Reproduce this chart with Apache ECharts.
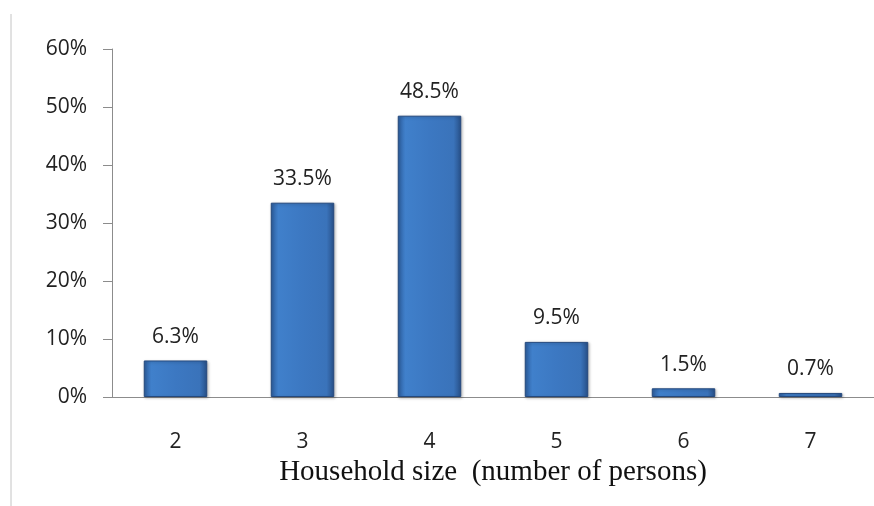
<!DOCTYPE html>
<html>
<head>
<meta charset="utf-8">
<script src="https://cdn.jsdelivr.net/npm/echarts@6/dist/echarts.min.js"></script>
<style>
  html, body { margin: 0; padding: 0; background: #fff; }
  #chart { width: 874px; height: 506px; }
</style>
</head>
<body>
<div id="chart"></div>
<script>
  'use strict';

  // household size categories and share of households (%)
  var sizes = ['2', '3', '4', '5', '6', '7'];
  var shares = [6.3, 33.5, 48.5, 9.5, 1.5, 0.7];
  var yTicks = { min: 0, max: 60, step: 10 };

  var myChart = echarts.init(document.getElementById('chart'));

  var barColor = new echarts.graphic.LinearGradient(0, 0, 1, 0, [
    { offset: 0, color: '#2d5e9f' },
    { offset: 0.12, color: '#4080cb' },
    { offset: 0.5, color: '#3c78c2' },
    { offset: 0.88, color: '#3a73ba' },
    { offset: 1, color: '#274f87' }
  ]);

  var option = {
    animation: false,
    grid: {
      left: 112,
      top: 49,
      width: 771,
      height: 348
    },
    graphic: [{
      type: 'line',
      shape: { x1: 11, y1: 14, x2: 11, y2: 506 },
      style: { stroke: '#c4c4c4', lineWidth: 1 }
    }],
    xAxis: {
      type: 'category',
      data: sizes,
      name: 'Household size  (number of persons)',
      nameLocation: 'middle',
      nameGap: 47,
      nameTextStyle: {
        fontFamily: 'Liberation Serif',
        fontSize: 29,
        color: '#111'
      },
      axisLine: { lineStyle: { color: '#8c8c8c', width: 1 } },
      axisTick: { length: 8, lineStyle: { color: '#8c8c8c' } },
      axisLabel: {
        margin: 35,
        fontFamily: 'Open Sans',
        fontSize: 21,
        color: '#222'
      }
    },
    yAxis: {
      type: 'value',
      min: yTicks.min,
      max: yTicks.max,
      interval: yTicks.step,
      splitLine: { show: false },
      axisLine: { show: true, lineStyle: { color: '#8c8c8c', width: 1 } },
      axisTick: { show: true, length: 9, lineStyle: { color: '#8c8c8c' } },
      axisLabel: {
        formatter: '{value}%',
        margin: 25,
        fontFamily: 'Open Sans',
        fontSize: 21,
        color: '#222'
      }
    },
    series: [{
      type: 'bar',
      data: shares,
      barWidth: '50%',
      itemStyle: {
        color: barColor,
        borderColor: '#24497e',
        borderWidth: 1,
        shadowColor: 'rgba(0,0,0,0.25)',
        shadowBlur: 3,
        shadowOffsetX: 1,
        shadowOffsetY: 1
      },
      label: {
        show: true,
        position: 'top',
        distance: 13,
        formatter: function (p) { return p.value.toFixed(1) + '%'; },
        fontFamily: 'Open Sans',
        fontSize: 21,
        color: '#222'
      }
    }]
  };

  myChart.setOption(option);
</script>
</body>
</html>
